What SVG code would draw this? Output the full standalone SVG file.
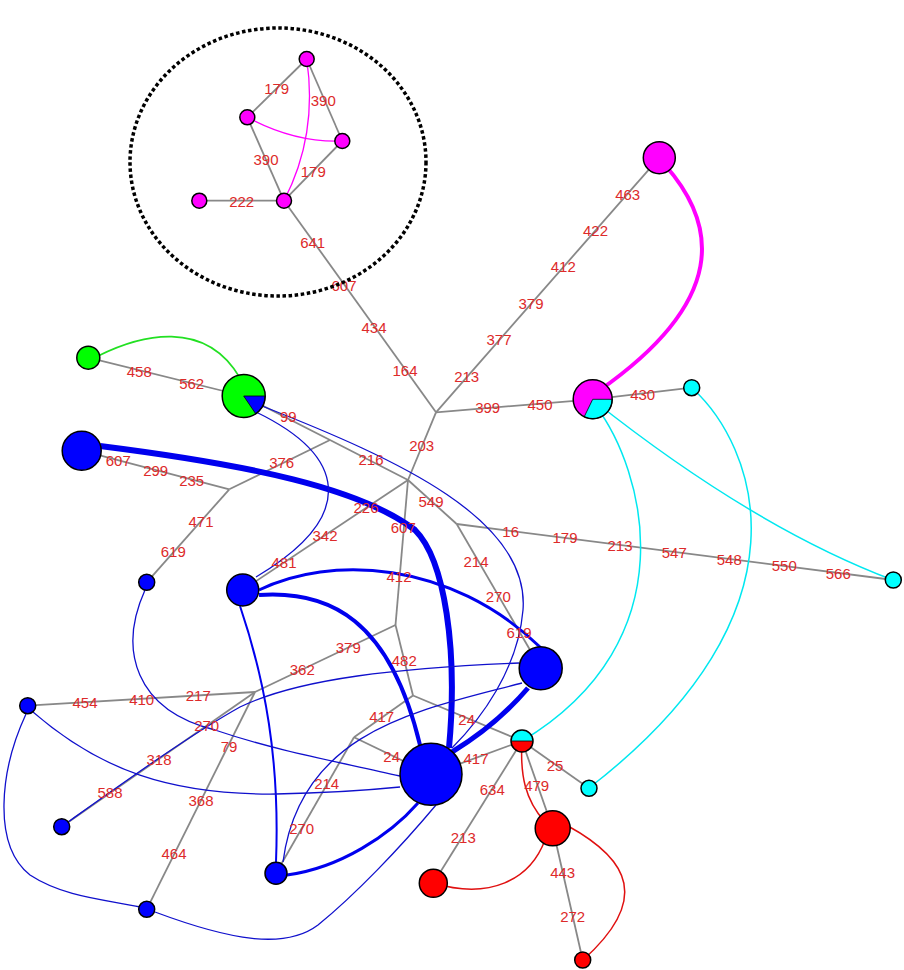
<svg xmlns="http://www.w3.org/2000/svg" width="904" height="970" viewBox="0 0 904 970">
<style>
.g{stroke:#888;stroke-width:1.8;fill:none}
.bt{stroke:#1010cc;stroke-width:1.3;fill:none}
.bl{stroke:#0000ee;fill:none}
.n{stroke:#000;stroke-width:1.5}
.w{stroke:#000;stroke-width:0.8}
.t{font-family:"Liberation Sans",Arial,sans-serif;font-size:15px;fill:#dd2a2a;text-anchor:middle}
</style>
<rect width="904" height="970" fill="#fff"/>
<g id="connectors">
<g id="tree-edges">
<line class="g" x1="199.3" y1="200.7" x2="284" y2="200.7"/>
<line class="g" x1="247.3" y1="117.3" x2="284" y2="200.7"/>
<line class="g" x1="306.7" y1="59" x2="247.3" y2="117.3"/>
<line class="g" x1="306.7" y1="59" x2="342.3" y2="141"/>
<line class="g" x1="342.3" y1="141" x2="284" y2="200.7"/>
<line class="g" x1="284" y1="200.7" x2="436" y2="412.3"/>
<line class="g" x1="436" y1="412.3" x2="659.3" y2="157.7"/>
<line class="g" x1="436" y1="412.3" x2="592.7" y2="399.3"/>
<line class="g" x1="592.7" y1="399.3" x2="691.7" y2="387.7"/>
<line class="g" x1="436" y1="412.3" x2="408" y2="480"/>
<polyline class="g" points="243.7,396 330,440 408,480"/>
<line class="g" x1="330" y1="440" x2="229.3" y2="489.3"/>
<line class="g" x1="229.3" y1="489.3" x2="81.7" y2="450.7"/>
<line class="g" x1="229.3" y1="489.3" x2="146.7" y2="582.3"/>
<line class="g" x1="88.3" y1="357.7" x2="243.7" y2="396"/>
<line class="g" x1="408" y1="480" x2="395.5" y2="625"/>
<line class="g" x1="408" y1="480" x2="456.7" y2="524"/>
<line class="g" x1="456.7" y1="524" x2="893.3" y2="580"/>
<line class="g" x1="456.7" y1="524" x2="540.7" y2="668.3"/>
<line class="g" x1="408" y1="480" x2="242.7" y2="590"/>
<line class="g" x1="395.5" y1="625" x2="255" y2="692"/>
<line class="g" x1="395.5" y1="625" x2="413" y2="695.5"/>
<line class="g" x1="255" y1="692" x2="27.7" y2="705.7"/>
<line class="g" x1="255" y1="692" x2="61.7" y2="826.7"/>
<line class="g" x1="255" y1="692" x2="146.7" y2="909.3"/>
<line class="g" x1="413" y1="695.5" x2="354" y2="737.3"/>
<line class="g" x1="413" y1="695.5" x2="522" y2="741"/>
<line class="g" x1="354" y1="737.3" x2="431" y2="774.3"/>
<line class="g" x1="354" y1="737.3" x2="276" y2="873.3"/>
<line class="g" x1="522" y1="741" x2="431" y2="774.3"/>
<line class="g" x1="522" y1="741" x2="589" y2="788.3"/>
<line class="g" x1="522" y1="741" x2="433.3" y2="883.3"/>
<line class="g" x1="522" y1="741" x2="552.7" y2="828.3"/>
<line class="g" x1="552.7" y1="828.3" x2="582.7" y2="960"/>
</g>
<g id="colour-edges">
<path d="M306.7,59 Q318,135 284,200.7" stroke="#ff00ff" stroke-width="1.3" fill="none"/>
<path d="M247.3,117.3 Q295,143 342.3,141" stroke="#ff00ff" stroke-width="1.3" fill="none"/>
<path d="M665,165 C718,225 728,300 600,390" stroke="#ff00ff" stroke-width="4" fill="none"/>
<path d="M98,356 C140,335 205,318 240,378" stroke="#22e022" stroke-width="1.6" fill="none"/>
<path d="M593,400 Q753,527 893,580" stroke="#00e8f0" stroke-width="1.5" fill="none"/>
<path d="M595,405 C645,470 690,640 522,741" stroke="#00e8f0" stroke-width="1.5" fill="none"/>
<path d="M692,388 C755,445 820,610 589,788" stroke="#00e8f0" stroke-width="1.5" fill="none"/>
<path d="M522,741 C520,775 525,800 545,822" stroke="#e01010" stroke-width="1.5" fill="none"/>
<path d="M545,840 C530,880 490,900 433,883" stroke="#e01010" stroke-width="1.5" fill="none"/>
<path d="M568,826 C630,860 650,900 583,960" stroke="#e01010" stroke-width="1.5" fill="none"/>
<path class="bl" stroke-width="6" d="M100,446 C250,465 360,488 415,530 C445,560 458,650 449,748"/>
<path class="bl" stroke-width="4" d="M259,595 C330,590 390,620 420,745"/>
<path class="bl" stroke-width="3" d="M259,590 C330,555 450,560 540,647"/>
<path class="bl" stroke-width="2" d="M240,606 C265,680 280,760 276,862"/>
<path class="bt" d="M256,412 C345,455 360,515 256,577"/>
<path class="bt" d="M262,406 C400,460 530,520 523,610 C518,670 480,720 452,748"/>
<path class="bt" d="M145,590 C118,650 135,710 215,730 C280,752 340,762 400,776"/>
<path class="bt" d="M33,712 C100,770 170,795 276,794 C330,793 370,790 400,787"/>
<path class="bt" d="M26,714 C0,770 -8,845 30,875 C65,898 110,900 140,907"/>
<path class="bt" d="M155,912 C230,940 285,950 318,925 C355,895 400,848 436,805"/>
<path class="bt" d="M68,822 C130,778 190,735 240,707 C300,678 400,668 519,663"/>
<path class="bl" stroke-width="5" d="M528,688 C505,715 480,735 452,752"/>
<path class="bt" d="M522,683 C420,710 300,730 283,862"/>
<path class="bl" stroke-width="3" d="M287,875 C340,868 390,835 418,803"/>
</g>
</g>
<g id="nodes">
<g id="m1"><circle class="n" cx="306.7" cy="59" r="7.5" fill="#ff00ff"/></g>
<g id="m2"><circle class="n" cx="247.3" cy="117.3" r="7.5" fill="#ff00ff"/></g>
<g id="m3"><circle class="n" cx="342.3" cy="141" r="7.5" fill="#ff00ff"/></g>
<g id="m4"><circle class="n" cx="284" cy="200.7" r="7.5" fill="#ff00ff"/></g>
<g id="m5"><circle class="n" cx="199.3" cy="200.7" r="7.5" fill="#ff00ff"/></g>
<g id="m-top"><circle class="n" cx="659.3" cy="157.7" r="16" fill="#ff00ff"/></g>
<g id="m-pie"><circle cx="592.7" cy="399.3" r="19.5" fill="#ff00ff"/><path class="w" d="M592.7,399.3 L612.2,399.3 A19.5,19.5 0 0 1 584.2,416.8 Z" fill="#00ffff"/><circle class="n" cx="592.7" cy="399.3" r="19.5" fill="none"/></g>
<g id="c-small"><circle class="n" cx="691.7" cy="387.7" r="8" fill="#00ffff"/></g>
<g id="c-right"><circle class="n" cx="893.3" cy="580" r="8" fill="#00ffff"/></g>
<g id="c-bottom"><circle class="n" cx="589" cy="788.3" r="8" fill="#00ffff"/></g>
<g id="half"><path d="M511,741 A11,11 0 0 1 533,741 Z" fill="#00ffff"/><path d="M511,741 A11,11 0 0 0 533,741 Z" fill="#ff0000"/><line class="w" x1="511" y1="741" x2="533" y2="741"/><circle class="n" cx="522" cy="741" r="11" fill="none"/></g>
<g id="g-small"><circle class="n" cx="88.3" cy="357.7" r="11.5" fill="#00ff00"/></g>
<g id="g-pie"><circle cx="243.7" cy="396" r="21.5" fill="#00ff00"/><path class="w" d="M243.7,396 L265.2,396 A21.5,21.5 0 0 1 255.7,413.8 Z" fill="#0000ff"/><circle class="n" cx="243.7" cy="396" r="21.5" fill="none"/></g>
<g id="b1"><circle class="n" cx="81.7" cy="450.7" r="19.5" fill="#0000ff"/></g>
<g id="b2"><circle class="n" cx="242.7" cy="590" r="16" fill="#0000ff"/></g>
<g id="b3"><circle class="n" cx="146.7" cy="582.3" r="8" fill="#0000ff"/></g>
<g id="b4"><circle class="n" cx="431" cy="774.3" r="31" fill="#0000ff"/></g>
<g id="b5"><circle class="n" cx="540.7" cy="668.3" r="21.5" fill="#0000ff"/></g>
<g id="b6"><circle class="n" cx="27.7" cy="705.7" r="8" fill="#0000ff"/></g>
<g id="b7"><circle class="n" cx="61.7" cy="826.7" r="8" fill="#0000ff"/></g>
<g id="b8"><circle class="n" cx="146.7" cy="909.3" r="8" fill="#0000ff"/></g>
<g id="b9"><circle class="n" cx="276" cy="873.3" r="11" fill="#0000ff"/></g>
<g id="r1"><circle class="n" cx="433.3" cy="883.3" r="14" fill="#ff0000"/></g>
<g id="r2"><circle class="n" cx="552.7" cy="828.3" r="17.5" fill="#ff0000"/></g>
<g id="r3"><circle class="n" cx="582.7" cy="960" r="8" fill="#ff0000"/></g>
</g>
<g id="edge-labels" class="t">
<text x="276.7" y="93.8">179</text>
<text x="323.3" y="105.5">390</text>
<text x="266" y="164.8">390</text>
<text x="313.3" y="177.2">179</text>
<text x="241.7" y="207.2">222</text>
<text x="312.7" y="247.8">641</text>
<text x="344" y="290.5">607</text>
<text x="374" y="333.2">434</text>
<text x="405" y="375.5">164</text>
<text x="466.7" y="381.5">213</text>
<text x="499" y="344.8">377</text>
<text x="531" y="308.8">379</text>
<text x="563.3" y="272.2">412</text>
<text x="595.5" y="236.2">422</text>
<text x="627.7" y="199.5">463</text>
<text x="487.7" y="413.2">399</text>
<text x="540" y="409.8">450</text>
<text x="642.7" y="399.8">430</text>
<text x="421.7" y="451.2">203</text>
<text x="139.3" y="376.5">458</text>
<text x="191.7" y="388.8">562</text>
<text x="288.3" y="422.2">99</text>
<text x="371" y="464.5">216</text>
<text x="281.7" y="467.8">376</text>
<text x="118.3" y="466.2">607</text>
<text x="155.7" y="476.2">299</text>
<text x="191.7" y="485.5">235</text>
<text x="201" y="526.5">471</text>
<text x="173.3" y="556.5">619</text>
<text x="366" y="512.8">226</text>
<text x="325" y="540.5">342</text>
<text x="284" y="568.2">481</text>
<text x="431" y="507.2">549</text>
<text x="403.3" y="533.2">607</text>
<text x="399" y="582.2">412</text>
<text x="510.7" y="536.5">16</text>
<text x="565" y="542.8">179</text>
<text x="620" y="551.2">213</text>
<text x="674.3" y="557.8">547</text>
<text x="729.3" y="564.5">548</text>
<text x="784.3" y="571.2">550</text>
<text x="838.3" y="578.8">566</text>
<text x="476" y="566.5">214</text>
<text x="498.3" y="602.2">270</text>
<text x="519" y="637.8">619</text>
<text x="348.3" y="652.8">379</text>
<text x="302.3" y="674.8">362</text>
<text x="404.3" y="666.2">482</text>
<text x="198.3" y="700.5">217</text>
<text x="141.7" y="704.5">410</text>
<text x="85" y="707.8">454</text>
<text x="206.7" y="731.2">270</text>
<text x="159" y="764.5">318</text>
<text x="110" y="798.2">588</text>
<text x="229" y="752.2">79</text>
<text x="201" y="805.5">368</text>
<text x="174" y="858.8">464</text>
<text x="381.7" y="722.2">417</text>
<text x="466.7" y="724.5">24</text>
<text x="391.7" y="762.2">24</text>
<text x="476" y="763.8">417</text>
<text x="326.7" y="788.8">214</text>
<text x="301.7" y="833.8">270</text>
<text x="555" y="771.2">25</text>
<text x="492.3" y="794.5">634</text>
<text x="463.3" y="842.8">213</text>
<text x="536.7" y="791.2">479</text>
<text x="562.7" y="877.8">443</text>
<text x="572.7" y="922.2">272</text>
</g>
<ellipse cx="278" cy="162" rx="148" ry="134" fill="none" stroke="#000" stroke-width="3.5" stroke-dasharray="3.5 2.6"/>
</svg>
